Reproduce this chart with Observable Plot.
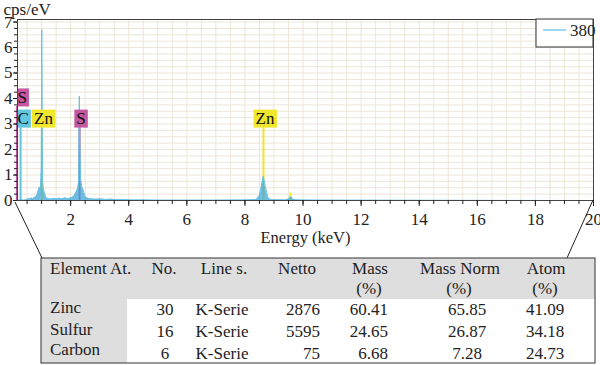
<!DOCTYPE html>
<html><head><meta charset="utf-8">
<script src="https://cdn.jsdelivr.net/npm/d3@7"></script>
<script src="https://cdn.jsdelivr.net/npm/@observablehq/plot@0.6"></script>
<style>
body{margin:0;background:#fff;}
#wrap{position:relative;width:600px;height:365px;}
#wrap svg{position:absolute;left:0;top:0;overflow:visible;}
</style></head><body><div id="wrap"></div>
<script>
// spectrum (energy keV, cps/eV)
const energy = [0.17,0.25,0.3,0.4,0.5,0.55,0.6,0.65,0.7,0.75,0.8,0.85,0.88,0.91,0.94,0.97,0.99,1.005,1.02,1.035,1.06,1.1,1.15,1.2,1.3,1.4,1.5,1.6,1.7,1.8,1.9,2.0,2.1,2.15,2.2,2.25,2.28,2.3,2.32,2.34,2.38,2.42,2.46,2.5,2.6,2.7,2.8,3.0,3.2,3.4,3.6,3.8,4.0,4.5,5.0,6.0,7.0,8.0,8.4,8.5,8.55,8.6,8.63,8.66,8.7,8.75,8.8,8.9,9.4,9.5,9.57,9.64,9.75,10.5,20];
const counts = [0,0.01,0.02,0.01,0.03,0.08,0.05,0.1,0.06,0.12,0.15,0.25,0.35,0.5,0.45,0.6,1.2,6.7,3.5,0.8,0.45,0.3,0.12,0.08,0.05,0.08,0.06,0.09,0.06,0.1,0.07,0.1,0.15,0.25,0.35,0.5,0.8,4.1,2.2,0.9,0.55,0.45,0.3,0.15,0.08,0.06,0.05,0.06,0.04,0.05,0.03,0.04,0.02,0.02,0.01,0.01,0.01,0.02,0.04,0.2,0.45,0.75,0.95,0.8,0.55,0.3,0.1,0.03,0.02,0.06,0.15,0.06,0.02,0.01,0];
// element marker lines
const markerNames = ["S","C","Zn","S","Zn","Zn"];
const markerEnergy = [0.149,0.277,1.012,2.307,8.638,9.572];
const markerLabeled = [true,true,true,true,true,false];
// axes
const xTicks = [2,4,6,8,10,12,14,16,18,20];
const yTicks = [0,1,2,3,4,5,6,7];
const legendLabels = ["380"];
// quantification table
const tableHeader1 = ["Element At.","No.","Line s.","Netto","Mass","Mass Norm","Atom"];
const tableHeader2 = ["","","","","(%)","(%)","(%)"];
const elements = ["Zinc","Sulfur","Carbon"];
const atomicNo = [30,16,6];
const lineSeries = ["K-Serie","K-Serie","K-Serie"];
const netto = [2876,5595,75];
const massPct = [60.41,24.65,6.68];
const massNorm = [65.85,26.87,7.28];
const atomPct = [41.09,34.18,24.73];

const FONT = '"Liberation Serif", "DejaVu Serif", serif';

const spectrum = energy.map((e,i)=>({e, c:counts[i]}));
const markers = markerNames.map((n,i)=>({n, e:markerEnergy[i], labeled:markerLabeled[i], i}));
const labeled = markers.filter(m=>m.labeled);
const colorOf = {S:"#c4579f", C:"#62c6de", Zn:"#f0e62c"};
const levelOf = m => m.i===0 ? 4.04 : 3.21;
const topOf = m => !m.labeled ? 0.3 : levelOf(m) - 0.36;
const minorX = d3.range(0.5,20.01,0.5);
const minorY = d3.range(0,7.01,0.25);

const plot = Plot.plot({
  width:600, height:258, marginLeft:17, marginRight:7, marginTop:19, marginBottom:58,
  style:{fontFamily:FONT, fontSize:"17px", color:"#222", background:"transparent"},
  x:{domain:[0.17,20]}, y:{domain:[0,7.1]}, color:{type:"identity"},
  marks:[
    Plot.gridX(minorX, {stroke:"#ece6d8", strokeOpacity:1}),
    Plot.gridY(minorY, {stroke:"#ece6d8", strokeOpacity:1}),
    Plot.ruleX(markers, {x:"e", y1:0, y2:topOf, stroke:d=>colorOf[d.n], strokeWidth:2}),
    Plot.areaY(spectrum, {x:"e", y:"c", fill:"#3fa7d8", fillOpacity:0.75, clip:true}),
    Plot.lineY(spectrum, {x:"e", y:"c", stroke:"#66c3e6", strokeWidth:1, clip:true}),
    Plot.text(labeled, {x:"e", y:levelOf, text:"n", dx:1.5, fill:"#111", fontSize:17}),
    Plot.frame({stroke:"#444"}),
    Plot.axisX(minorX, {tickSize:4, tickFormat:()=>"", label:null, stroke:"#222"}),
    Plot.axisX(xTicks, {tickSize:6, tickPadding:6, label:null, stroke:"#222", fill:"#222"}),
    Plot.axisY(minorY, {tickSize:3, tickFormat:()=>"", label:null, stroke:"#222"}),
    Plot.axisY(yTicks, {tickSize:4, tickPadding:1, label:null, stroke:"#222", fill:"#222"}),
    Plot.text(["cps/eV"], {frameAnchor:"top-left", dx:-14, dy:-5, textAnchor:"start", lineAnchor:"bottom", fill:"#222", fontSize:17}),
    Plot.text(["Energy (keV)"], {frameAnchor:"bottom", dy:42, fill:"#222", fontSize:16.5})
  ]
});
const wrap = document.getElementById("wrap");
wrap.appendChild(plot);

// label background boxes, kept inside the plot frame (left edge at x = 17)
const names = new Set(labeled.map(m=>m.n));
const labelTexts = Array.from(plot.querySelectorAll("text")).filter(t=>names.has(t.textContent.trim()));
const sr = plot.getBoundingClientRect();
labelTexts.forEach((t,k)=>{
  if (k >= labeled.length) return;
  let tb = t.getBoundingClientRect();
  let left = tb.left - sr.left;
  if (left < 17.5) {
    const shift = 17.5 - left;
    t.setAttribute("transform", (t.getAttribute("transform")||"") + ` translate(${shift},0)`);
    tb = t.getBoundingClientRect(); left = tb.left - sr.left;
  }
  const top = tb.top - sr.top, cy = top + tb.height/2;
  const x0 = Math.max(17, left-2);
  const r = document.createElementNS("http://www.w3.org/2000/svg","rect");
  r.setAttribute("x", x0); r.setAttribute("y", cy-9);
  r.setAttribute("width", left + tb.width + 2 - x0); r.setAttribute("height", 18);
  r.setAttribute("fill", colorOf[labeled[k].n]);
  const g = t.parentNode;
  g.parentNode.insertBefore(r, g);
});

// overlay: legend, connectors, table
const ov = d3.create("svg").attr("width",600).attr("height",365)
  .attr("font-family",FONT).attr("font-size",17);
const L = ov.append("g");
L.append("rect").attr("x",536).attr("y",19).attr("width",57).attr("height",28).attr("fill","#fff").attr("stroke","#333");
L.append("line").attr("x1",543).attr("x2",566).attr("y1",30).attr("y2",30).attr("stroke","#7cccea").attr("stroke-width",1.5);
L.append("text").attr("x",570).attr("y",36).attr("fill","#222").text(legendLabels[0]);
ov.append("line").attr("x1",15).attr("y1",202).attr("x2",42).attr("y2",258).attr("stroke","#222");
ov.append("line").attr("x1",593).attr("y1",200).attr("x2",567).attr("y2",258).attr("stroke","#222");
const T = ov.append("g");
const tx0=41, tx1=595, ty0=258, ty1=363, hy=299, lcx=127;
T.append("rect").attr("x",tx0).attr("y",ty0).attr("width",tx1-tx0).attr("height",ty1-ty0).attr("fill","#fff");
T.append("rect").attr("x",tx0).attr("y",ty0).attr("width",tx1-tx0).attr("height",hy-ty0).attr("fill","#dedede");
T.append("rect").attr("x",tx0).attr("y",hy).attr("width",lcx-tx0).attr("height",ty1-hy).attr("fill","#dedede");
T.append("rect").attr("x",tx0).attr("y",ty0).attr("width",tx1-tx0).attr("height",ty1-ty0).attr("fill","none").attr("stroke","#333");
const hx = [[50,"start"],[164,"middle"],[224,"middle"],[297,"middle"],[370,"middle"],[460,"middle"],[546,"middle"]];
tableHeader1.forEach((h,i)=>T.append("text").attr("x",hx[i][0]).attr("y",274).attr("text-anchor",hx[i][1]).attr("fill","#222").text(h));
tableHeader2.forEach((h,i)=>{ if(h) T.append("text").attr("x",hx[i][0]-1).attr("y",294).attr("text-anchor",hx[i][1]).attr("fill","#222").text(h); });
const nameY=[313,335,355], valY=[315,337,359];
const cols = [
  [atomicNo, 165, "middle", v=>String(v)],
  [lineSeries, 222, "middle", v=>v],
  [netto, 320, "end", v=>String(v)],
  [massPct, 388, "end", v=>v.toFixed(2)],
  [massNorm, 467, "middle", v=>v.toFixed(2)],
  [atomPct, 545, "middle", v=>v.toFixed(2)]
];
elements.forEach((el,r)=>{
  T.append("text").attr("x",50).attr("y",nameY[r]).attr("fill","#222").text(el);
  cols.forEach(([arr,x,anc,f])=>T.append("text").attr("x",x).attr("y",valY[r]).attr("text-anchor",anc).attr("fill","#222").text(f(arr[r])));
});
wrap.appendChild(ov.node());
</script></body></html>
